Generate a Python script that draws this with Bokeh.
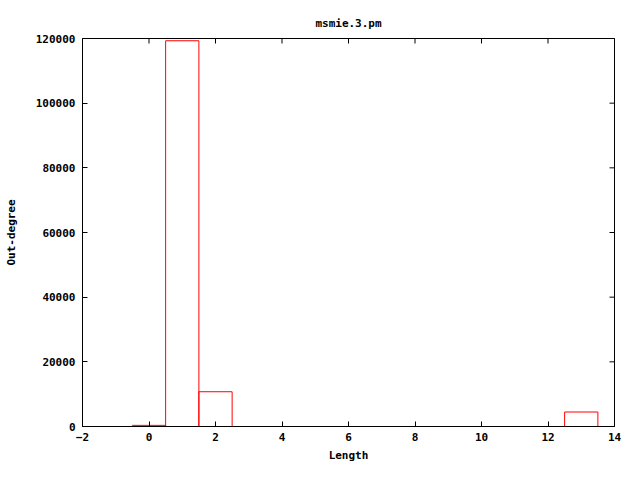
import math
from bokeh.plotting import figure
from bokeh.models import FixedTicker, Range1d, NumeralTickFormatter
from bokeh.embed import file_html
from bokeh.resources import INLINE

lengths = [0, 1, 2, 13]
outdegree = [350, 119300, 10750, 4480]
x_ticks = [-2, 0, 2, 4, 6, 8, 10, 12, 14]
y_ticks = [0, 20000, 40000, 60000, 80000, 100000, 120000]
x_min, x_max = -2, 14
y_min, y_max = 0, 120000

FONT = "DejaVu Sans Mono"

p = figure(width=624, height=464, output_backend="svg", toolbar_location=None,
           x_range=Range1d(x_min, x_max), y_range=Range1d(y_min, y_max),
           min_border_left=82, min_border_right=10, min_border_top=38, min_border_bottom=36,
           title="msmie.3.pm")
p.title.align = "center"
p.title.text_font = FONT
p.title.text_font_size = "11px"
p.title.text_font_style = "bold"
p.title.text_color = "black"
p.title.standoff = 17
p.grid.visible = False
p.outline_line_color = "black"
p.outline_line_width = 1

p.quad(left=[v - 0.5 for v in lengths], right=[v + 0.5 for v in lengths],
       bottom=[0] * len(lengths), top=outdegree,
       fill_color=None, line_color="#ff0000", line_width=1)

# mirrored tick marks on top and right edges (half of each dash is clipped)
p.scatter(x=x_ticks, y=[y_max] * len(x_ticks), marker="dash", size=10,
          angle=math.pi / 2, line_color="black", line_width=1)
p.scatter(x=[x_max] * len(y_ticks), y=y_ticks, marker="dash", size=10,
          line_color="black", line_width=1)

def style(ax):
    ax.major_tick_in = 5
    ax.major_tick_out = 0
    ax.minor_tick_in = 0
    ax.minor_tick_out = 0
    ax.axis_line_color = "black"
    ax.major_tick_line_color = "black"
    ax.major_label_text_font = FONT
    ax.major_label_text_font_size = "11px"
    ax.major_label_text_font_style = "bold"
    ax.major_label_text_color = "black"
    ax.axis_label_text_font = FONT
    ax.axis_label_text_font_size = "11px"
    ax.axis_label_text_font_style = "bold"
    ax.axis_label_text_color = "black"

xa = p.xaxis[0]
xa.ticker = FixedTicker(ticks=x_ticks)
xa.axis_label = "Length"
xa.major_label_standoff = 6
xa.axis_label_standoff = 5
style(xa)

ya = p.yaxis[0]
ya.ticker = FixedTicker(ticks=y_ticks)
ya.formatter = NumeralTickFormatter(format="0")
ya.axis_label = "Out-degree"
ya.major_label_standoff = 7
ya.axis_label_standoff = 15
style(ya)

open("out.html", "w").write(file_html(p, INLINE))
